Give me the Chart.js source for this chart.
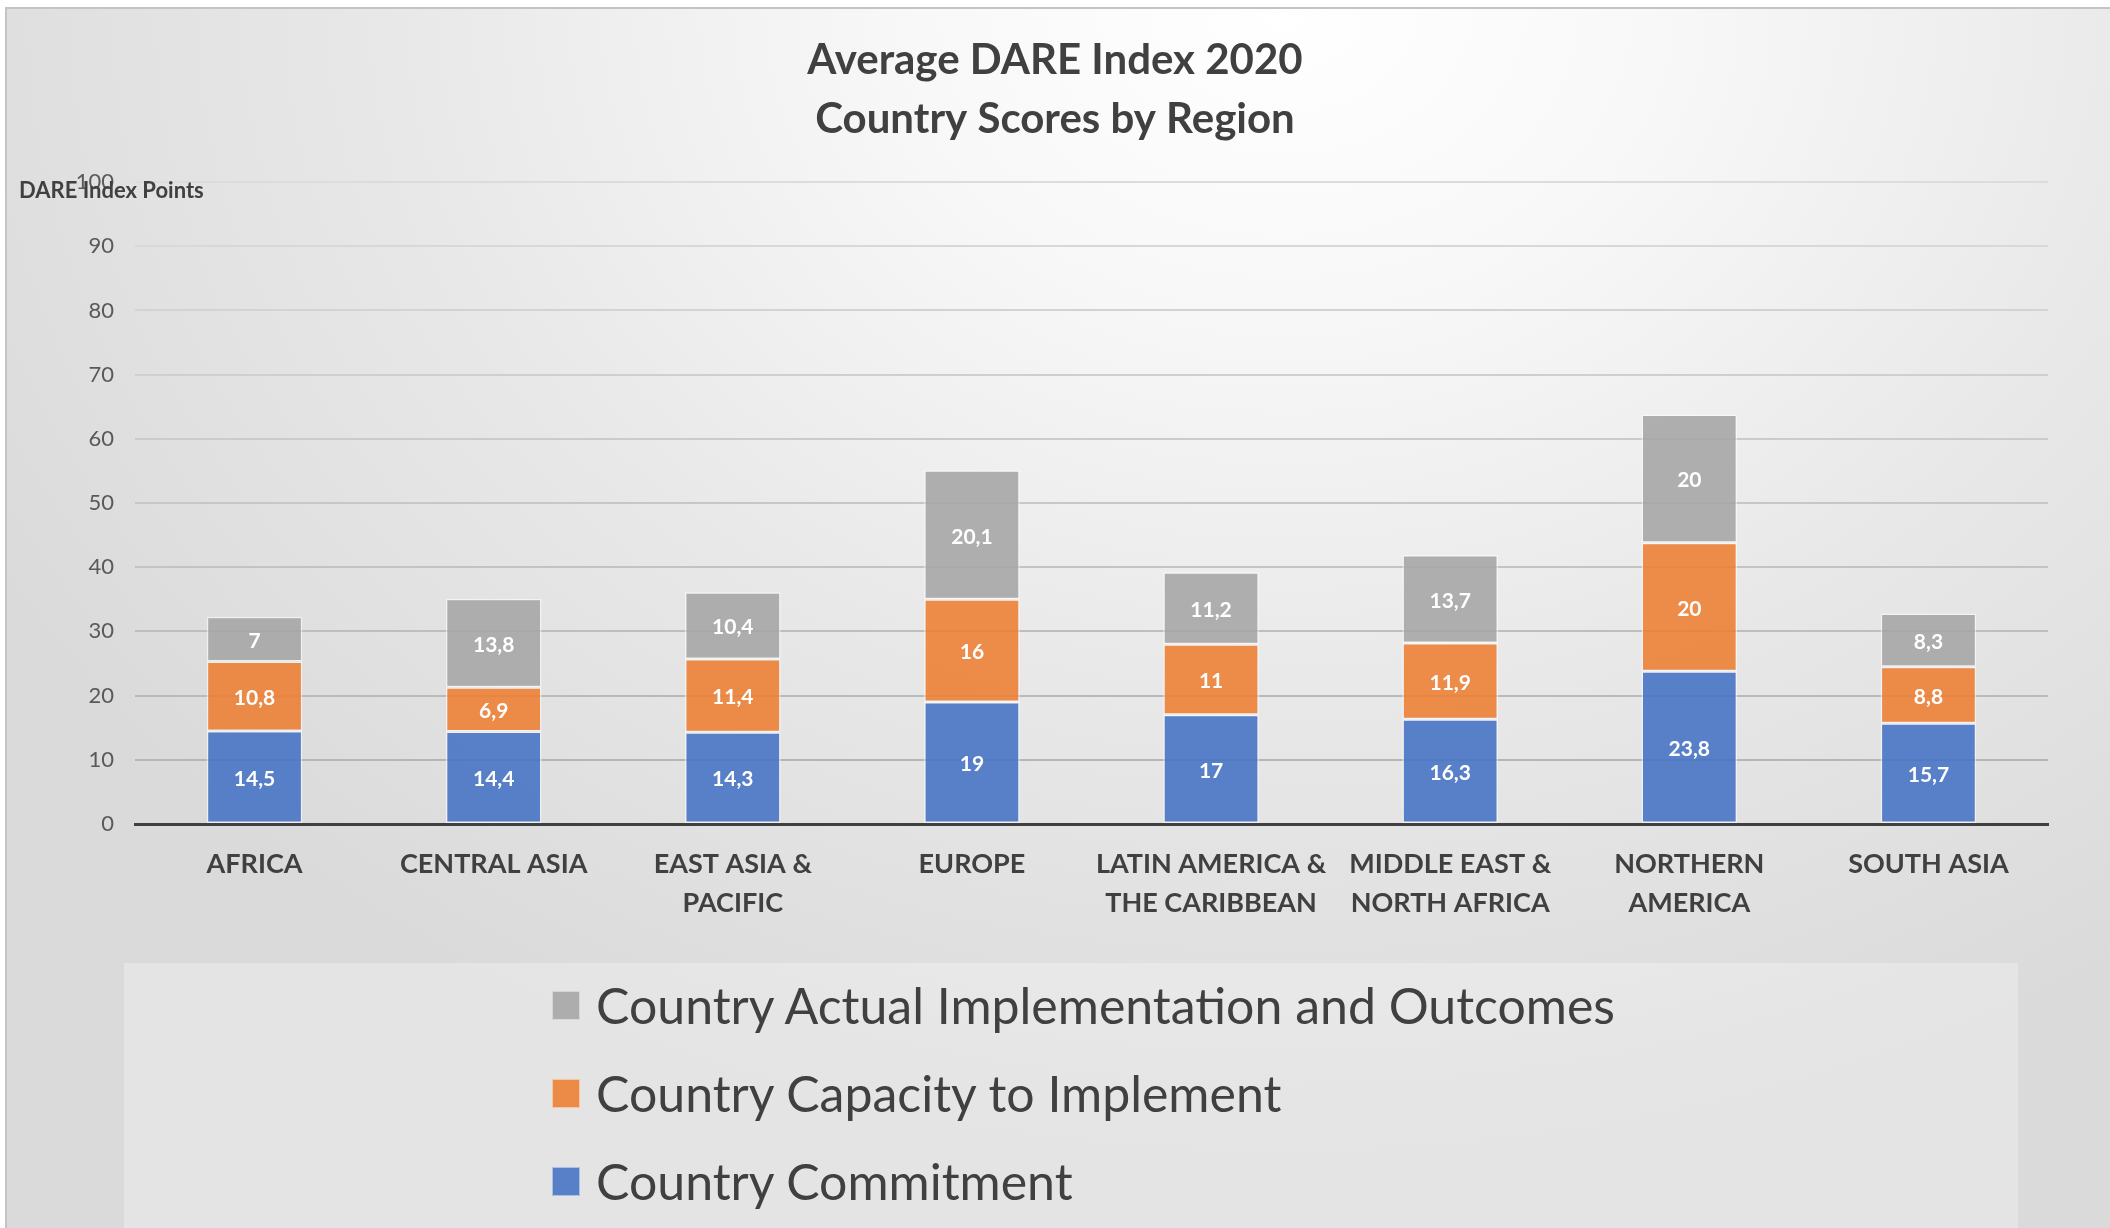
<!DOCTYPE html>
<html>
<head>
<meta charset="utf-8">
<script src="https://cdn.jsdelivr.net/npm/chart.js@4"></script>
<style>
    html, body { margin: 0; padding: 0; background: #ffffff; }
    #page { position: relative; width: 2110px; height: 1228px; overflow: hidden; }
    #frame {
        position: absolute; left: 5px; top: 7px; width: 2130px; height: 1219px;
        border: 2px solid #c4c4c4;
        background: radial-gradient(ellipse 70% 95% at 60% 0%, #ffffff 0%, #f8f8f8 25%, #e8e8e8 60%, #dadada 100%);
    }
    #chartBox { position: absolute; left: 0; top: 0; width: 2110px; height: 963px; }
    #legend {
        position: absolute; left: 124px; top: 963px; width: 1894px; height: 265px;
        background: rgba(255, 255, 255, 0.28);
        font-family: Lato, sans-serif; color: #404040;
    }
    #legend ul { list-style: none; margin: 0; padding: 0; position: absolute; left: 428px; top: -2px; }
    #legend li { height: 88px; display: flex; align-items: center; font-size: 50px; white-space: nowrap; }
    #legend .box { width: 28px; height: 29px; margin-right: 16px; border: 1px solid rgba(255,255,255,0.5); box-sizing: border-box; }
</style>
</head>
<body>
<div id="page">
    <div id="frame"></div>
    <div id="chartBox"><canvas id="dareChart" width="2110" height="963"></canvas></div>
    <div id="legend"><ul id="legendList"></ul></div>
</div>
<script>
// データ
const regions = [
    'AFRICA',
    'CENTRAL ASIA',
    ['EAST ASIA &', 'PACIFIC'],
    'EUROPE',
    ['LATIN AMERICA &', 'THE CARIBBEAN'],
    ['MIDDLE EAST &', 'NORTH AFRICA'],
    ['NORTHERN', 'AMERICA'],
    'SOUTH ASIA'
];
const commitment = [14.5, 14.4, 14.3, 19, 17, 16.3, 23.8, 15.7];
const capacity = [10.8, 6.9, 11.4, 16, 11, 11.9, 20, 8.8];
const outcomes = [7, 13.8, 10.4, 20.1, 11.2, 13.7, 20, 8.3];
const yTicks = [0, 10, 20, 30, 40, 50, 60, 70, 80, 90, 100];

const textFont = 'Lato, "Open Sans", sans-serif';

// 値ラベル (小数点はカンマ)
const valueLabels = {
    id: 'valueLabels',
    afterDatasetsDraw(chart) {
        const ctx = chart.ctx;
        ctx.save();
        ctx.font = 'bold 21px ' + textFont;
        ctx.fillStyle = '#ffffff';
        ctx.textAlign = 'center';
        ctx.textBaseline = 'middle';
        chart.data.datasets.forEach((ds, i) => {
            chart.getDatasetMeta(i).data.forEach((bar, j) => {
                const text = String(ds.data[j]).replace('.', ',');
                ctx.fillText(text, bar.x, (bar.y + bar.base) / 2 + 2);
            });
        });
        ctx.restore();
    }
};

// 左上の軸タイトル
const axisCaption = {
    id: 'axisCaption',
    afterDraw(chart) {
        const ctx = chart.ctx;
        ctx.save();
        ctx.font = 'bold 22px ' + textFont;
        ctx.fillStyle = '#404040';
        ctx.textAlign = 'left';
        ctx.textBaseline = 'middle';
        ctx.fillText('DARE Index Points', 19, 191);
        ctx.restore();
    }
};

const dareChart = new Chart(document.getElementById('dareChart'), {
    type: 'bar',
    data: {
        labels: regions,
        datasets: [{
            label: 'Country Commitment',
            data: commitment,
            backgroundColor: 'rgba(68, 114, 196, 0.88)'
        }, {
            label: 'Country Capacity to Implement',
            data: capacity,
            backgroundColor: 'rgba(237, 125, 49, 0.88)'
        }, {
            label: 'Country Actual Implementation and Outcomes',
            data: outcomes,
            backgroundColor: 'rgba(165, 165, 165, 0.88)'
        }]
    },
    options: {
        responsive: false,
        animation: false,
        devicePixelRatio: 1,
        layout: { padding: { left: 62, right: 62, top: 0, bottom: 0 } },
        datasets: {
            bar: {
                categoryPercentage: 1,
                barPercentage: 0.4,
                borderColor: 'rgba(255, 255, 255, 0.55)',
                borderWidth: 1.5,
                borderSkipped: false
            }
        },
        plugins: {
            legend: { display: false },
            tooltip: { enabled: false },
            title: {
                display: true,
                text: ['Average DARE Index 2020', 'Country Scores by Region'],
                color: '#404040',
                font: { family: textFont, size: 42, weight: 'bold', lineHeight: 1.405 },
                padding: { top: 31, bottom: 33 }
            }
        },
        scales: {
            x: {
                stacked: true,
                grid: { display: false, drawTicks: false },
                border: { color: '#404040', width: 3 },
                ticks: {
                    color: '#404040',
                    padding: 21,
                    font: { family: textFont, size: 27, weight: 'bold', lineHeight: 1.444 }
                },
                afterFit(scale) { scale.height = 139; }
            },
            y: {
                stacked: true,
                min: 0,
                max: 100,
                afterBuildTicks(scale) { scale.ticks = yTicks.map(v => ({ value: v })); },
                grid: {
                    drawTicks: false,
                    lineWidth: 2,
                    color: ctx => {
                        const v = ctx.tick ? ctx.tick.value : 0;
                        if (v === 0) return 'rgba(0,0,0,0)';
                        const g = Math.round(182 + (v - 10) * 0.42);
                        return `rgb(${g}, ${g}, ${g})`;
                    }
                },
                border: { display: false },
                ticks: {
                    color: '#595959',
                    padding: 21,
                    font: { family: textFont, size: 22 }
                },
                afterFit(scale) { scale.width = 73; }
            }
        }
    },
    plugins: [valueLabels, axisCaption]
});

// 凡例 (逆順で縦に並べる)
const legendList = document.getElementById('legendList');
dareChart.data.datasets.slice().reverse().forEach(ds => {
    const li = document.createElement('li');
    const box = document.createElement('span');
    box.className = 'box';
    box.style.background = ds.backgroundColor;
    li.appendChild(box);
    li.appendChild(document.createTextNode(ds.label));
    legendList.appendChild(li);
});
</script>
</body>
</html>
